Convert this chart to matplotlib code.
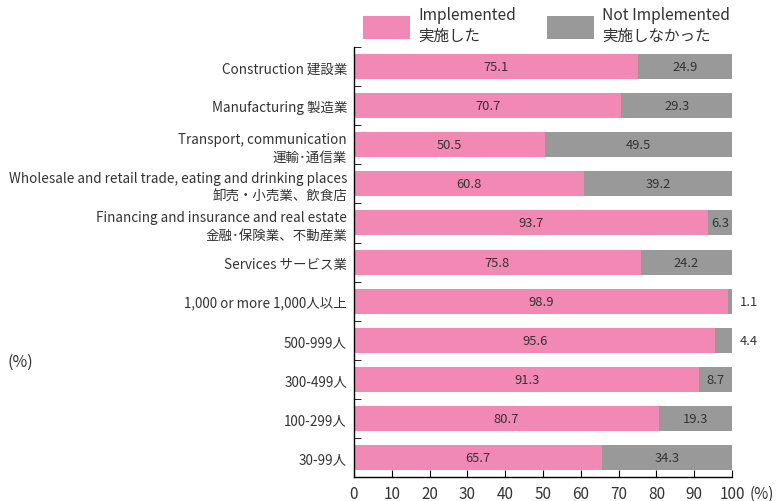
import matplotlib
matplotlib.use("Agg")
import matplotlib.pyplot as plt
from matplotlib.patches import Rectangle
import numpy as np

plt.rcParams['font.family'] = ['Noto Sans CJK JP', 'DejaVu Sans']

categories = [
    "Construction 建設業",
    "Manufacturing 製造業",
    "Transport, communication\n運輸･通信業",
    "Wholesale and retail trade, eating and drinking places\n卸売・小売業、飲食店",
    "Financing and insurance and real estate\n金融･保険業、不動産業",
    "Services サービス業",
    "1,000 or more 1,000人以上",
    "500-999人",
    "300-499人",
    "100-299人",
    "30-99人",
]
implemented = [75.1, 70.7, 50.5, 60.8, 93.7, 75.8, 98.9, 95.6, 91.3, 80.7, 65.7]
not_implemented = [24.9, 29.3, 49.5, 39.2, 6.3, 24.2, 1.1, 4.4, 8.7, 19.3, 34.3]
x_ticks = [0, 10, 20, 30, 40, 50, 60, 70, 80, 90, 100]
legend_labels = ["Implemented\n実施した", "Not Implemented\n実施しなかった"]

pink = "#F288B4"
grey = "#999999"
text_col = "#333333"

fig = plt.figure(figsize=(7.78, 5.02), dpi=100)
ax = fig.add_axes([0.455, 0.048, 0.486, 0.856])

y = np.arange(len(categories))
h = 0.64
ax.barh(y, implemented, height=h, color=pink, edgecolor="none")
ax.barh(y, not_implemented, left=implemented, height=h, color=grey, edgecolor="none")

for yi, a, b in zip(y, implemented, not_implemented):
    ax.text(a / 2, yi, f"{a:.1f}", ha="center", va="center", fontsize=9.3, color=text_col)
    if b < 5:
        ax.text(102, yi, f"{b:.1f}", ha="left", va="center", fontsize=9.3, color=text_col)
    else:
        ax.text(a + b / 2, yi, f"{b:.1f}", ha="center", va="center", fontsize=9.3, color=text_col)

ax.set_xlim(0, 100)
ax.set_ylim(len(categories) - 0.5, -0.5)
ax.set_yticks(y)
ax.set_yticklabels(categories, fontsize=9.7, color=text_col, ha="right", linespacing=1.3)
ax.set_yticks(np.arange(-0.5, len(categories), 1.0), minor=True)
ax.tick_params(axis="y", which="major", length=0, pad=5)
ax.tick_params(axis="y", which="minor", length=5, direction="in", color="black")
ax.set_xticks(x_ticks)
ax.set_xticklabels([str(t) for t in x_ticks], fontsize=11, color=text_col)
ax.tick_params(axis="x", direction="in", length=5, pad=6)

for s in ["top", "right"]:
    ax.spines[s].set_visible(False)
for s in ["left", "bottom"]:
    ax.spines[s].set_color("black")
    ax.spines[s].set_linewidth(1.0)

fig.text(0.963, 0.016, "(%)", fontsize=11, color=text_col, ha="left", va="center")
fig.text(0.009, 0.278, "(%)", fontsize=11.5, color=text_col, ha="left", va="center")

# legend: colour swatches with two-line labels
W, H = 778.0, 502.0
for x0, col, lab in [(363, pink, legend_labels[0]), (547, grey, legend_labels[1])]:
    fig.add_artist(Rectangle((x0 / W, 1 - 40 / H), 47 / W, 23 / H,
                             transform=fig.transFigure, facecolor=col, edgecolor="none"))
    fig.text((x0 + 55) / W, 1 - 26 / H, lab, fontsize=11.2, color=text_col,
             ha="left", va="center", linespacing=1.25)

fig.savefig("out.png", dpi=100)
